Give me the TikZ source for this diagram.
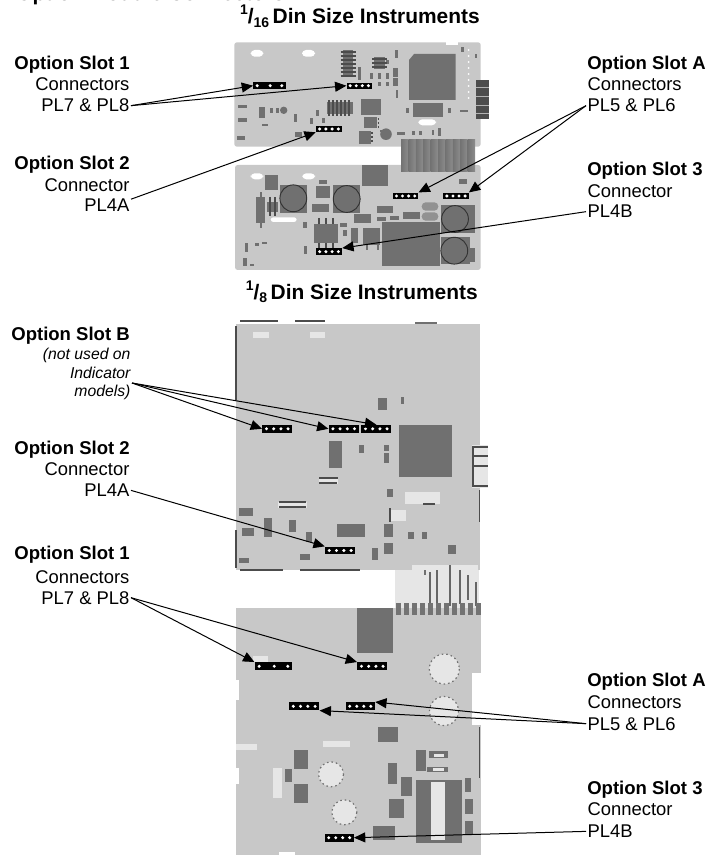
\documentclass[tikz,border=0pt]{standalone}
\usepackage{fontspec}
\setmainfont{Liberation Sans}
\usetikzlibrary{arrows.meta, calc}
\definecolor{board}{RGB}{200,200,200}
\definecolor{chipgray}{RGB}{112,112,112}
\definecolor{midgray}{RGB}{145,145,145}
\definecolor{padlight}{RGB}{230,230,230}
\tikzset{
  slothead/.style={font=\fontsize{13.9}{16}\selectfont\bfseries, inner sep=0pt},
  slottext/.style={font=\fontsize{13.8}{16}\selectfont, inner sep=1pt},
  slotnote/.style={font=\fontsize{11.8}{14}\selectfont\itshape, inner sep=1pt},
  sizetitle/.style={font=\fontsize{15.7}{18}\selectfont\bfseries, inner sep=0pt},
  chip/.style={fill=chipgray},
  pad/.style={fill=padlight},
  edgeline/.style={draw=black!70, line width=0.8pt},
  legs/.style={draw=black!70, line width=0.8pt},
  roundhole/.style={fill=padlight, draw=black!55, line width=0.9pt, dash pattern=on 1.2pt off 2.2pt},
  lead/.style={draw=black, line width=0.75pt, -{Triangle[length=8.5pt,width=7.5pt]}},
  hdrbase/.style={fill=black, inner sep=0pt, minimum width=#1*0.75pt},
  pinhdr/.style={hdrbase=#1, path picture={
      \foreach \t in {0.14,0.38,0.62,0.86}
        \fill[white] ($(path picture bounding box.west)!\t!(path picture bounding box.east)$) circle (1.25pt);}},
  pinthree/.style={hdrbase=#1, path picture={
      \foreach \t in {0.12,0.52,0.88}
        \fill[white] ($(path picture bounding box.west)!\t!(path picture bounding box.east)$) circle (1.25pt);}},
}
\begin{document}
\begin{tikzpicture}[x=0.75pt, y=-0.75pt]
  \useasboundingbox (0,0) rectangle (706,855);
  % 1/16 din: upper board
  \fill[board, rounded corners=2] (234.3,42.3) rectangle (480.7,146.7);
  \fill[white] (446,42) rectangle (458,45);
  \foreach \xa/\ya/\xb/\yb in {342.7/50/353.3/77.3, 374/56.7/385/69.3, 413.3/102.7/443.3/116.7,
      327.3/102.3/352.7/114, 360.7/99.3/380.7/115, 364.3/116.7/376.7/128.3, 359.3/131/370.7/144,
      259.3/106.7/265/118.3, 238.3/105/246.7/108.3, 238.3/118.3/246.7/121.7, 395/50/398.3/58.3,
      393/68/398.3/77, 393.3/78.3/398.3/85.7, 370/72.7/373.3/79.3, 395.7/90/398.3/98.3,
      358.3/66.7/360.7/80, 396.7/131.7/405/135, 431.7/130/434/135, 438.3/128.3/440.7/136,
      295/131.7/301.7/137.3, 236.7/136/245/140, 316/110/319/116, 310/118/313/124, 322/118/325/123,
      406/108/409/113, 448/108/451/113, 276/108/279/113, 270/108/273/113, 294/114/297/122,
      262/124/268/126, 380/130/386/132, 412/131/415/135, 419/131/422/135, 461/47/464/52,
      475/54/477/58, 386/60/389/64, 378/73/381/79, 386/73/389/79, 378/82/381/86, 386/82/389/86,
      460/110/468/112} 
    \fill[chip] (\xa,\ya) rectangle (\xb,\yb);
  \fill[chip] (414,54) -- (455.7,54) -- (455.7,100) -- (409,100) -- (409,60) -- cycle;
  \fill[chip] (386,134.2) circle[radius=5.8];
  \fill[chip] (283.7,110.3) circle[radius=3.7];
  \foreach \y in {52,56,60,64,68,72,76} \draw[legs] (340.5,\y) -- (355.5,\y);
  \foreach \x in {329,333,337,341,345,349} \draw[legs] (\x,100.5) -- (\x,116);
  \foreach \y in {59,63,67} \draw[legs] (372,\y) -- (387,\y);
  \foreach \y in {119,123,127} \draw[legs] (377.5,\y) -- (379,\y);
  \foreach \y in {133,137,141} \draw[legs] (370.7,\y) -- (373,\y);
  \fill[white, rounded corners=3] (250.7,50) rectangle (263.3,56.7);
  \fill[white, rounded corners=3] (302,50) rectangle (315,56.7);
  \fill[white, rounded corners=3] (418.3,119.3) rectangle (436,125.3);
  \foreach \y in {50,56,...,100} \fill[white] (468.5,\y) circle[radius=1];
  \fill[black!70] (475.7,80) rectangle (489.3,119.3);
  \foreach \y in {87,96,105,113} \draw[black!30, line width=0.6pt] (475.7,\y) -- (489.3,\y);
  % 1/16 din: lower board and ribbon
  \fill[board, rounded corners=2] (235,165) rectangle (480.7,270);
  \foreach \i in {0,...,9}
    \shade[left color=black!55, middle color=black!8, right color=black!45] (401+\i*7.4,140) rectangle (408.4+\i*7.4,172);
  \foreach \xa/\ya/\xb/\yb in {265/175/278.3/190, 280/185/307.3/212.7, 332.7/185/360/212.7,
      316/185.7/330/198.3, 312.3/204/329/211.7, 319.3/180/327.3/184, 362.3/165/388.3/185.7,
      256/197.3/265/222.7, 266.7/201.7/278.3/211.7, 314.3/224.3/338.3/243.3, 354/214.3/371.3/223.3,
      376.7/205.7/393.3/213.3, 377.3/216.7/386/220.7, 390/215.7/399/220, 403.3/211.7/420/219.3,
      382.3/222.3/440/266, 440.7/205/475/233.3, 440.7/236.7/470/264, 459/179.3/467.3/184,
      350.7/228.3/358.3/243.3, 362.7/228.3/380/245, 303.3/221.7/306.7/228.3, 304/246/307.3/254,
      245/243.3/248.3/251.7, 243.3/258.3/246.7/266, 250/264/254/266, 255/243.3/259/246,
      262/242/267/244, 469.3/248.3/475/261.7, 340/223/347/227, 343/230/347/236}
    \fill[chip] (\xa,\ya) rectangle (\xb,\yb);
  \fill[chip] (259.5,192) rectangle (261.5,228);
  \fill[midgray, rounded corners=3] (421.7,202.3) rectangle (438.3,210.7);
  \fill[midgray, rounded corners=3] (421.7,212.3) rectangle (438.3,220.7);
  \foreach \cx/\cy in {293.3/198.3, 346.7/199, 455/219, 454.3/250.7}
    \draw[fill=chipgray, draw=black!80, line width=0.7pt] (\cx,\cy) circle[radius=13.4];
  \foreach \x in {319,326,333} {
    \draw[legs] (\x,218) -- (\x,224);
    \draw[legs] (\x,243) -- (\x,248);
  }
  \foreach \x in {270,275} \draw[legs] (\x,197) -- (\x,216);
  \fill[white, rounded corners=3] (250.7,173.3) rectangle (263.3,179.3);
  \fill[white, rounded corners=3] (302.3,173.3) rectangle (315,179.3);
  \fill[white, rounded corners=2] (270.7,217.3) rectangle (296.7,222);
  \foreach \x in {366,377} \fill[chip] (\x,245) rectangle (\x+2,250);
  % 1/8 din: upper board
  \fill[pad] (395,565) rectangle (479.3,608);
  \fill[board] (235.7,324) rectangle (480.3,570);
  \fill[pad] (471.7,445) rectangle (488.3,488.3);
  \foreach \y in {447,456,466,486} \draw[edgeline] (472,\y) -- (488,\y);
  \draw[edgeline] (473,447) -- (473,486);
  \foreach \xa/\ya/\xb/\yb in {378.3/398.3/387.3/410, 401/396.7/404.3/404.3, 399/425/451.7/476.7,
      329/440.7/341.7/468.3, 359.3/445/364/453.3, 384/445/389/451, 384/453.3/389/463.3,
      387.3/489.3/393.3/497.3, 239.3/508.3/252.7/516, 264/518.3/271.7/537.3, 289/520/296/531.7,
      241.7/527.7/254.3/535.7, 305.7/531.7/311.7/542.3, 336.7/524/365/537.3, 384/524/393.3/537.3,
      408.3/531.7/414/539.3, 421.7/531.7/427.3/539.3, 384/543.3/393.3/554.3, 448.3/545/455.7/554.3,
      372.3/548.3/377.7/560, 300/554.3/310/560, 239.3/558.3/249.3/563.3, 415/322/437/324,
      424/565/426/575}
    \fill[chip] (\xa,\ya) rectangle (\xb,\yb);
  \foreach \xa/\ya/\xb/\yb in {253/332/269/338, 310/332/325/338, 319/476.7/338.3/484,
      278.3/501.7/306.7/508.3, 405/491.7/440/504.3, 391/510/405.5/521, 412/565/478/570}
    \fill[pad] (\xa,\ya) rectangle (\xb,\yb);
  \foreach \xa/\ya/\xb/\yb in {236/326/236/400, 240/321/278/321, 295/321/325/321, 236/530/236/568,
      240/570/283/570, 300/570/360/570, 479.3/490/479.3/521.7, 319/478/338/478, 319/483/337/483,
      390/508.3/390/522, 279/502/306/502, 279/507/306/507, 423/504/435/504}
    \draw[edgeline] (\xa,\ya) -- (\xb,\yb);
  \foreach \xa/\ya/\xb in {430/572/603, 437/570/604, 450/565/606, 460/570/604, 468/575/600, 476/582/606}
    \draw[black!60, line width=1.1pt] (\xa,\ya) -- (\xa,\xb);
  % 1/8 din: lower board
  \fill[board] (235.7,608) rectangle (480.7,855);
  \fill[white] (471.7,673) rectangle (481,725);
  \fill[white] (235,768.3) rectangle (239.3,784.3);
  \fill[white] (235,680) rectangle (238.5,700);
  \fill[white] (279,852) rectangle (295,855);
  \foreach \x in {396,404,412,420,428,436,444,452,460,468,476}
    \fill[black!55] (\x,603) rectangle (\x+5,615);
  \foreach \xa/\ya/\xb/\yb in {357.3/608.3/393.3/652.7, 378.3/727.3/398.3/742.3, 294.3/750/307.7/769,
      285/769/292.3/782.3, 294.3/784.3/307.7/803.3, 387.7/763.3/396.7/784.3, 400.7/776.7/412.3/795.7,
      389.3/799.3/404.3/818.3, 416/750/426/770.7, 429/751/448.3/757.7, 427.3/766.7/448.3/772.3,
      416/780/461.7/843.3, 465/778.3/470.7/791.7, 465/799/473.3/814.3, 465/820.7/473.3/835,
      372.7/826/395/840}
    \fill[chip] (\xa,\ya) rectangle (\xb,\yb);
  \foreach \xa/\ya/\xb/\yb in {323.3/740.7/350/746.7, 235.7/744.3/256.7/750, 273.3/768.3/281.7/797.7,
      431/781.7/445/840, 253/656/268/662, 434/754/444/757, 433/768/444/771}
    \fill[pad] (\xa,\ya) rectangle (\xb,\yb);
  \foreach \cx/\cy/\r in {444.3/669/15, 444/711/14.5, 331/774.3/12.5, 344.3/812.3/12.5}
    \path[roundhole] (\cx,\cy) circle[radius=\r];
  \draw[edgeline] (479.3,727) -- (479.3,778);
  % option connectors
  \node[pinthree=32.4, minimum height=6.7*0.75pt] (conOneA) at (269.5,85.7) {};
  \node[pinhdr=25.3, minimum height=6*0.75pt] (conOneB) at (359.3,85.7) {};
  \node[pinhdr=26, minimum height=6*0.75pt] (conTwo) at (329,129) {};
  \node[pinhdr=25.3, minimum height=6.6*0.75pt] (conSlotAa) at (405.6,196) {};
  \node[pinhdr=25.3, minimum height=6.6*0.75pt] (conSlotAb) at (456,196) {};
  \node[pinhdr=26, minimum height=6.7*0.75pt] (conThree) at (329,251.7) {};
  \node[pinhdr=30, minimum height=7.7*0.75pt] (conBa) at (277.3,428.8) {};
  \node[pinhdr=30, minimum height=7.7*0.75pt] (conBb) at (343.7,428.8) {};
  \node[pinhdr=30, minimum height=7.7*0.75pt] (conBc) at (376.3,428.8) {};
  \node[pinhdr=30.3, minimum height=7.7*0.75pt] (conTwoL) at (340.2,550.5) {};
  \node[pinthree=37.6, minimum height=8*0.75pt] (conOneL) at (273.5,666.3) {};
  \node[pinhdr=30, minimum height=8*0.75pt] (conOneR) at (372.3,666.3) {};
  \node[pinhdr=30.3, minimum height=8*0.75pt] (conSlotAL) at (304.2,706.3) {};
  \node[pinhdr=29.3, minimum height=8*0.75pt] (conSlotAR) at (360.3,706.3) {};
  \node[pinhdr=29, minimum height=8*0.75pt] (conThreeL) at (339.2,837.7) {};
  % titles
  \begin{scope}
    \clip (0,0) rectangle (706,855);
    \node[sizetitle, anchor=base west] (mainTitle) at (16,0.5) {Option Module Connectors};
  \end{scope}
  \node[sizetitle, anchor=base east] (titleSmall) at (480,24)
    {\raisebox{6.75pt}{\fontsize{10.5}{12}\selectfont 1}/\raisebox{-2.5pt}{\fontsize{10.5}{12}\selectfont 16}\,Din Size Instruments};
  \node[sizetitle, anchor=base east] (titleLarge) at (478,299.3)
    {\raisebox{6.75pt}{\fontsize{10.5}{12}\selectfont 1}/\raisebox{-2.5pt}{\fontsize{10.5}{12}\selectfont 8}\,Din Size Instruments};
  % left labels, upper pair
  \node[slothead, anchor=base east] (oneHead) at (130,69.3) {Option Slot 1};
  \node[slottext, anchor=base east] (oneText) at (131,90.7) {Connectors};
  \node[slottext, anchor=base east] (onePins) at (131,112) {PL7 \& PL8};
  \node[slothead, anchor=base east] (twoHead) at (130,170) {Option Slot 2};
  \node[slottext, anchor=base east] (twoText) at (131,192) {Connector};
  \node[slottext, anchor=base east] (twoPins) at (131,212) {PL4A};
  % right labels, upper pair
  \node[slothead, anchor=base west] (aHead) at (587,69.3) {Option Slot A};
  \node[slottext, anchor=base west] (aText) at (586,90.7) {Connectors};
  \node[slottext, anchor=base west] (aPins) at (586,112) {PL5 \& PL6};
  \node[slothead, anchor=base west] (threeHead) at (587,176) {Option Slot 3};
  \node[slottext, anchor=base west] (threeText) at (586,198) {Connector};
  \node[slottext, anchor=base west] (threePins) at (586,218) {PL4B};
  % left labels, lower group
  \node[slothead, anchor=base east] (bHead) at (130,340) {Option Slot B};
  \node[slotnote, anchor=base east] (bNoteA) at (132,359.3) {(not used on};
  \node[slotnote, anchor=base east] (bNoteB) at (132,378.3) {Indicator};
  \node[slotnote, anchor=base east] (bNoteC) at (132,396) {models)};
  \node[slothead, anchor=base east] (twoHeadL) at (130,454.3) {Option Slot 2};
  \node[slottext, anchor=base east] (twoTextL) at (131,475) {Connector};
  \node[slottext, anchor=base east] (twoPinsL) at (131,496.7) {PL4A};
  \node[slothead, anchor=base east] (oneHeadL) at (130,559) {Option Slot 1};
  \node[slottext, anchor=base east] (oneTextL) at (131,583) {Connectors};
  \node[slottext, anchor=base east] (onePinsL) at (131,604) {PL7 \& PL8};
  % right labels, lower group
  \node[slothead, anchor=base west] (aHeadL) at (587,686.7) {Option Slot A};
  \node[slottext, anchor=base west] (aTextL) at (586,708.3) {Connectors};
  \node[slottext, anchor=base west] (aPinsL) at (586,730) {PL5 \& PL6};
  \node[slothead, anchor=base west] (threeHeadL) at (587,794) {Option Slot 3};
  \node[slottext, anchor=base west] (threeTextL) at (586,815.7) {Connector};
  \node[slottext, anchor=base west] (threePinsL) at (586,837.7) {PL4B};
  % leaders
  \draw[lead] (onePins.east) -- (conOneA.west);
  \draw[lead] (onePins.east) -- (conOneB.west);
  \draw[lead] (twoPins.15) -- (conTwo.south west);
  \draw[lead] (aPins.west) -- (conSlotAa.north east);
  \draw[lead] (aPins.west) -- (conSlotAb.north east);
  \draw[lead] (threePins.west) -- (conThree.north east);
  \draw[lead] (bNoteC.north east) -- (conBa.west);
  \draw[lead] (bNoteC.north east) -- (conBb.west);
  \draw[lead] (bNoteC.north east) -- (conBc.north);
  \draw[lead] (twoPinsL.east) -- (conTwoL.north west);
  \draw[lead] (onePinsL.east) -- (conOneL.north west);
  \draw[lead] (onePinsL.east) -- (conOneR.north west);
  \draw[lead] (aPinsL.west) -- (conSlotAR.north east);
  \draw[lead] (aPinsL.west) -- (conSlotAL.south east);
  \draw[lead] (threePinsL.west) -- (conThreeL.east);
\end{tikzpicture}
\end{document}
